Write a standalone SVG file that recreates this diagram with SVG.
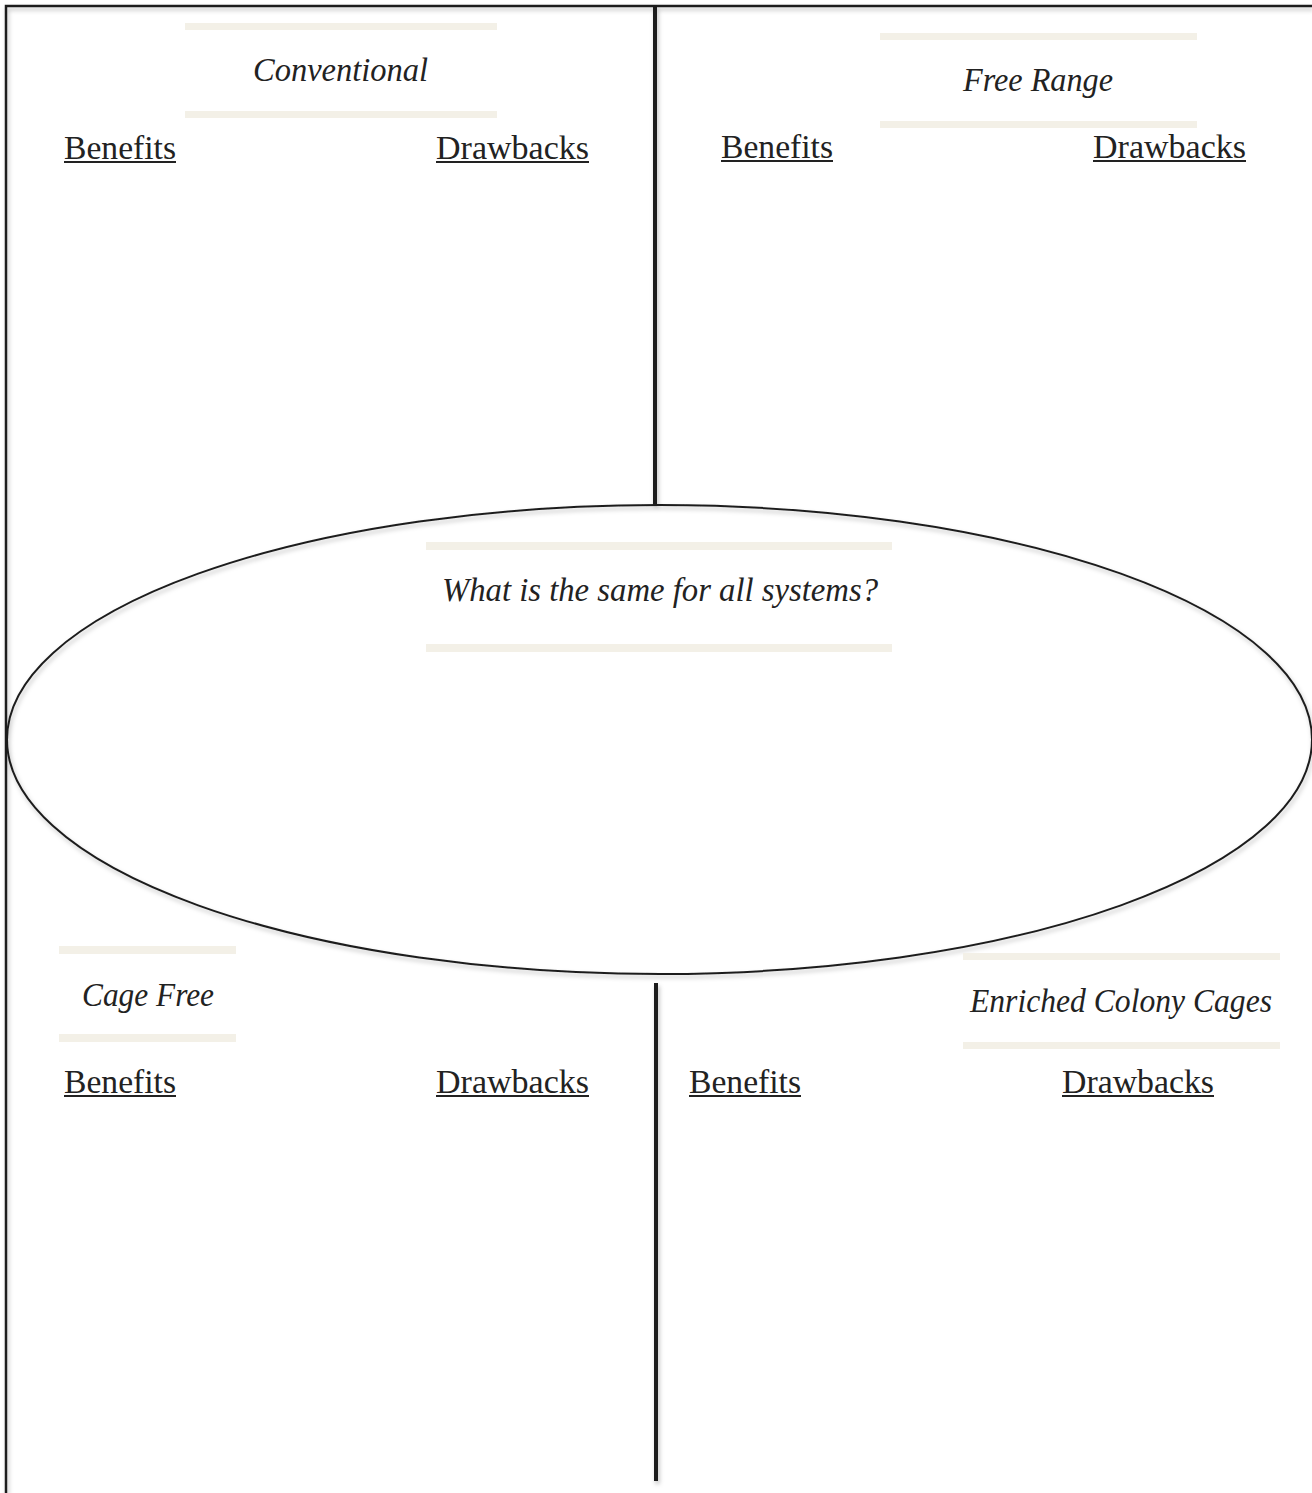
<svg xmlns="http://www.w3.org/2000/svg" width="1312" height="1493" viewBox="0 0 1312 1493">
<style>
.t{font-family:"Liberation Serif","Times New Roman",serif;font-size:33px;fill:#222;}
.i{font-style:italic;}
.bar{fill:#F3F0E7;}
.ul{stroke:#222;stroke-width:1.8;}
.ln{stroke:#1e1e1e;fill:none;}
</style>
<defs>
<filter id="sh" x="-5%" y="-5%" width="110%" height="110%">
<feDropShadow dx="1.5" dy="3" stdDeviation="2" flood-color="#000" flood-opacity="0.25"/>
</filter>
</defs>
<rect width="1312" height="1493" fill="#fff"/>
<g id="connectors" filter="url(#sh)">
<path class="ln" d="M6,1493 V6 H1312" stroke-width="2.5"/>
<line class="ln" x1="655" y1="5" x2="655" y2="505" stroke-width="4"/>
<line class="ln" x1="656" y1="983" x2="656" y2="1481" stroke-width="4"/>
<ellipse class="ln" cx="659.5" cy="739.5" rx="652.5" ry="234.5" stroke-width="2"/>
</g>
<g id="conventional">
<rect class="bar" x="185" y="23" width="312" height="7"/>
<rect class="bar" x="185" y="111" width="312" height="7"/>
<text class="t i" x="253" y="81" textLength="175" lengthAdjust="spacingAndGlyphs">Conventional</text>
<text class="t" x="64" y="159" textLength="112" lengthAdjust="spacingAndGlyphs">Benefits</text>
<line class="ul" x1="64" y1="162" x2="176" y2="162"/>
<text class="t" x="436" y="159" textLength="153" lengthAdjust="spacingAndGlyphs">Drawbacks</text>
<line class="ul" x1="436" y1="162" x2="589" y2="162"/>
</g>
<g id="free-range">
<rect class="bar" x="880" y="33" width="317" height="7"/>
<rect class="bar" x="880" y="121" width="317" height="7"/>
<text class="t i" x="963" y="91" textLength="150" lengthAdjust="spacingAndGlyphs">Free Range</text>
<text class="t" x="721" y="158" textLength="112" lengthAdjust="spacingAndGlyphs">Benefits</text>
<line class="ul" x1="721" y1="161" x2="833" y2="161"/>
<text class="t" x="1093" y="158" textLength="153" lengthAdjust="spacingAndGlyphs">Drawbacks</text>
<line class="ul" x1="1093" y1="161" x2="1246" y2="161"/>
</g>
<g id="same">
<rect class="bar" x="426" y="542" width="466" height="8"/>
<rect class="bar" x="426" y="644" width="466" height="8"/>
<text class="t i" x="442" y="601" textLength="436" lengthAdjust="spacingAndGlyphs">What is the same for all systems?</text>
</g>
<g id="cage-free">
<rect class="bar" x="59" y="946" width="177" height="8"/>
<rect class="bar" x="59" y="1034" width="177" height="8"/>
<text class="t i" x="82" y="1006" textLength="132" lengthAdjust="spacingAndGlyphs">Cage Free</text>
<text class="t" x="64" y="1093" textLength="112" lengthAdjust="spacingAndGlyphs">Benefits</text>
<line class="ul" x1="64" y1="1096" x2="176" y2="1096"/>
<text class="t" x="436" y="1093" textLength="153" lengthAdjust="spacingAndGlyphs">Drawbacks</text>
<line class="ul" x1="436" y1="1096" x2="589" y2="1096"/>
</g>
<g id="enriched">
<rect class="bar" x="963" y="953" width="317" height="7"/>
<rect class="bar" x="963" y="1042" width="317" height="7"/>
<text class="t i" x="970" y="1012" textLength="302" lengthAdjust="spacingAndGlyphs">Enriched Colony Cages</text>
<text class="t" x="689" y="1093" textLength="112" lengthAdjust="spacingAndGlyphs">Benefits</text>
<line class="ul" x1="689" y1="1096" x2="801" y2="1096"/>
<text class="t" x="1062" y="1093" textLength="152" lengthAdjust="spacingAndGlyphs">Drawbacks</text>
<line class="ul" x1="1062" y1="1096" x2="1214" y2="1096"/>
</g>
</svg>
